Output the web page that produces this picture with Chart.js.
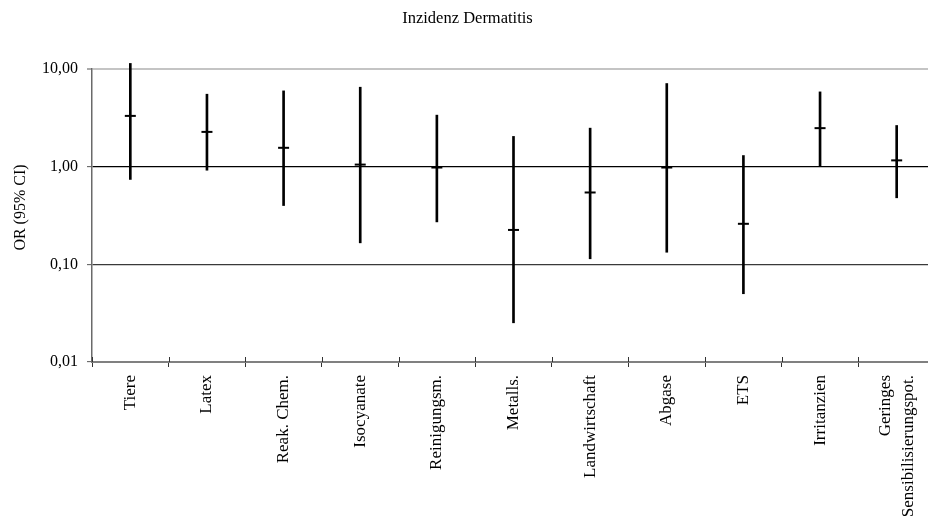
<!DOCTYPE html>
<html>
<head>
<meta charset="utf-8">
<script src="https://cdn.jsdelivr.net/npm/chart.js@4/dist/chart.umd.min.js"></script>
<style>
  html, body { margin: 0; padding: 0; background: #fff; overflow: hidden; }
  #wrap { width: 936px; height: 518px; }
</style>
</head>
<body>
<div id="wrap"><canvas id="c" width="936" height="518"></canvas></div>
<script>
// Exposure categories
const categories = [
  'Tiere', 'Latex', 'Reak. Chem.', 'Isocyanate', 'Reinigungsm.', 'Metalls.',
  'Landwirtschaft', 'Abgase', 'ETS', 'Irritanzien', ['Geringes', 'Sensibilisierungspot.']
];
// Odds ratios and 95% confidence limits
const oddsRatio = [3.31, 2.27, 1.56, 1.05, 0.98, 0.225, 0.544, 0.98, 0.26, 2.48, 1.16];
const ciLower   = [0.74, 0.92, 0.40, 0.166, 0.272, 0.0252, 0.114, 0.133, 0.050, 1.00, 0.48];
const ciUpper   = [11.4, 5.52, 5.97, 6.51, 3.37, 2.04, 2.48, 7.10, 1.30, 5.83, 2.64];
// Log axis ticks
const yTicks = [0.01, 0.1, 1, 10];
const yTickLabels = ['0,01', '0,10', '1,00', '10,00'];
const yTitle = 'OR (95% CI)';

const FONT = 'Liberation Serif, "Times New Roman", serif';

// Centre rotated multi-line category labels on their tick
const centerMultiline = {
  id: 'centerMultiline',
  beforeDraw(chart) {
    const xs = chart.scales.x;
    const items = xs.getLabelItems(chart.chartArea);
    items.forEach(item => {
      if (Array.isArray(item.label) && !item._centered) {
        const lh = item.font.lineHeight;
        item.options.translation[0] -= (item.label.length - 1) * lh / 2;
        item._centered = true;
      }
    });
  }
};

// Small tick marks that cross the category axis, plus the value-axis title
const axisExtras = {
  id: 'axisExtras',
  afterDraw(chart) {
    const xs = chart.scales.x;
    const ys = chart.scales.y;
    const ctx = chart.ctx;
    const bottom = chart.chartArea.bottom;
    const step = xs.getPixelForValue(1) - xs.getPixelForValue(0);
    ctx.save();
    ctx.strokeStyle = '#333';
    ctx.lineWidth = 1;
    for (let i = 0; i <= categories.length; i++) {
      const x = Math.round(xs.getPixelForValue(i) - step / 2) + 0.5;
      ctx.beginPath();
      ctx.moveTo(x, bottom - 5);
      ctx.lineTo(x, bottom);
      ctx.stroke();
    }
    ctx.translate(21, (ys.top + ys.bottom) / 2 - 8);
    ctx.rotate(-Math.PI / 2);
    ctx.fillStyle = '#000';
    ctx.font = '16px ' + FONT;
    ctx.textAlign = 'center';
    ctx.textBaseline = 'middle';
    ctx.fillText(yTitle, 0, 0);
    ctx.restore();
  }
};

const gridColor = v => v === 10 ? '#c4c4c4' : v === 1 ? '#000000' : v === 0.1 ? '#3a3a3a' : '#808080';
const gridWidth = v => v === 10 ? 2 : 1.3;

new Chart(document.getElementById('c'), {
  data: {
    labels: categories,
    datasets: [
      {
        type: 'bar',
        label: '95% CI',
        data: categories.map((_, i) => [ciLower[i], ciUpper[i]]),
        backgroundColor: '#000',
        borderWidth: 0,
        barThickness: 2,
        clip: false,
        order: 2
      },
      {
        type: 'line',
        label: 'OR',
        data: oddsRatio,
        showLine: false,
        pointStyle: 'line',
        pointRadius: 5.5,
        pointHoverRadius: 5.5,
        pointBorderWidth: 2,
        borderColor: '#000',
        backgroundColor: '#000',
        clip: false,
        order: 1
      }
    ]
  },
  options: {
    responsive: false,
    animation: false,
    devicePixelRatio: 1,
    layout: { autoPadding: false, padding: { left: 0, right: 1, top: 0, bottom: 0 } },
    plugins: {
      legend: { display: false },
      tooltip: { enabled: false },
      title: {
        display: true,
        text: 'Inzidenz Dermatitis',
        color: '#000',
        font: { family: FONT, size: 16.5, weight: 'normal' },
        padding: { top: 9, bottom: 40.2 }
      }
    },
    scales: {
      x: {
        type: 'category',
        offset: true,
        grid: {
          offset: true,
          drawOnChartArea: false,
          drawTicks: true,
          tickLength: 5,
          tickColor: '#333',
          tickWidth: 1
        },
        border: { display: true, color: '#808080', width: 2 },
        ticks: {
          color: '#000',
          font: { family: FONT, size: 17, lineHeight: 1.35 },
          minRotation: 90,
          maxRotation: 90,
          autoSkip: false,
          padding: 8
        },
        afterFit(s) {
          s.height = 156;
          s.paddingLeft = 0;
          s.paddingRight = 0;
        }
      },
      y: {
        type: 'logarithmic',
        min: 0.01,
        max: 10,
        afterBuildTicks(s) { s.ticks = yTicks.map(v => ({ value: v })); },
        ticks: {
          color: '#000',
          font: { family: FONT, size: 16 },
          padding: 9,
          callback: (v) => yTickLabels[yTicks.indexOf(v)]
        },
        grid: {
          color: c => gridColor(c.tick && c.tick.value),
          lineWidth: c => gridWidth(c.tick && c.tick.value),
          tickColor: '#555',
          tickLength: 5,
          tickWidth: 1
        },
        border: { display: true, color: '#6a6a6a', width: 1.5 },
        afterFit(s) { s.width = 92; }
      }
    }
  },
  plugins: [centerMultiline, axisExtras]
});
</script>
</body>
</html>
